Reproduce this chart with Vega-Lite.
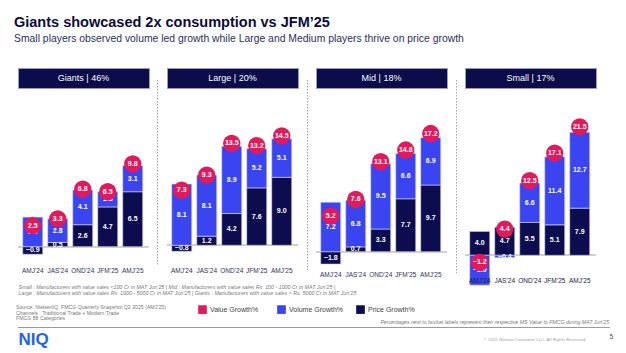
{
  "$schema": "https://vega.github.io/schema/vega-lite/v6.json",
  "background": "white",
  "padding": {"left": 14, "top": 14, "right": 4, "bottom": 2},
  "config": {
    "font": "Liberation Sans",
    "view": {"stroke": null},
    "axisX": {"domain": false, "ticks": false, "labelAngle": 0, "labelFontSize": 6.5, "labelColor": "#33335a", "labelPadding": 3, "labelOverlap": false, "zindex": 1}
  },
  "title": {
    "text": "Giants showcased 2x consumption vs JFM’25",
    "subtitle": "Small players observed volume led growth while Large and Medium players thrive on price growth",
    "anchor": "start", "dx": -2, "fontSize": 14.5, "fontWeight": "bold", "color": "#0b0b40",
    "subtitleFontSize": 10.4, "subtitleColor": "#2e2e5e", "subtitlePadding": 4, "offset": 22
  },
  "datasets": {
    "growth": [
      {"segment": "Giants", "period": "AMJ’24", "measure": "Price Growth%", "value": -0.9},
      {"segment": "Giants", "period": "AMJ’24", "measure": "Volume Growth%", "value": 3.5},
      {"segment": "Giants", "period": "AMJ’24", "measure": "Value Growth%", "value": 2.5},
      {"segment": "Giants", "period": "JAS’24", "measure": "Price Growth%", "value": 0.5},
      {"segment": "Giants", "period": "JAS’24", "measure": "Volume Growth%", "value": 2.8},
      {"segment": "Giants", "period": "JAS’24", "measure": "Value Growth%", "value": 3.3},
      {"segment": "Giants", "period": "OND’24", "measure": "Price Growth%", "value": 2.6},
      {"segment": "Giants", "period": "OND’24", "measure": "Volume Growth%", "value": 4.1},
      {"segment": "Giants", "period": "OND’24", "measure": "Value Growth%", "value": 6.8},
      {"segment": "Giants", "period": "JFM’25", "measure": "Price Growth%", "value": 4.7},
      {"segment": "Giants", "period": "JFM’25", "measure": "Volume Growth%", "value": 1.8},
      {"segment": "Giants", "period": "JFM’25", "measure": "Value Growth%", "value": 6.5},
      {"segment": "Giants", "period": "AMJ’25", "measure": "Price Growth%", "value": 6.5},
      {"segment": "Giants", "period": "AMJ’25", "measure": "Volume Growth%", "value": 3.1},
      {"segment": "Giants", "period": "AMJ’25", "measure": "Value Growth%", "value": 9.8},
      {"segment": "Large", "period": "AMJ’24", "measure": "Price Growth%", "value": -0.8},
      {"segment": "Large", "period": "AMJ’24", "measure": "Volume Growth%", "value": 8.1},
      {"segment": "Large", "period": "AMJ’24", "measure": "Value Growth%", "value": 7.3},
      {"segment": "Large", "period": "JAS’24", "measure": "Price Growth%", "value": 1.2},
      {"segment": "Large", "period": "JAS’24", "measure": "Volume Growth%", "value": 8.1},
      {"segment": "Large", "period": "JAS’24", "measure": "Value Growth%", "value": 9.3},
      {"segment": "Large", "period": "OND’24", "measure": "Price Growth%", "value": 4.2},
      {"segment": "Large", "period": "OND’24", "measure": "Volume Growth%", "value": 8.9},
      {"segment": "Large", "period": "OND’24", "measure": "Value Growth%", "value": 13.5},
      {"segment": "Large", "period": "JFM’25", "measure": "Price Growth%", "value": 7.6},
      {"segment": "Large", "period": "JFM’25", "measure": "Volume Growth%", "value": 5.2},
      {"segment": "Large", "period": "JFM’25", "measure": "Value Growth%", "value": 13.2},
      {"segment": "Large", "period": "AMJ’25", "measure": "Price Growth%", "value": 9.0},
      {"segment": "Large", "period": "AMJ’25", "measure": "Volume Growth%", "value": 5.1},
      {"segment": "Large", "period": "AMJ’25", "measure": "Value Growth%", "value": 14.5},
      {"segment": "Mid", "period": "AMJ’24", "measure": "Price Growth%", "value": -1.8},
      {"segment": "Mid", "period": "AMJ’24", "measure": "Volume Growth%", "value": 7.2},
      {"segment": "Mid", "period": "AMJ’24", "measure": "Value Growth%", "value": 5.2},
      {"segment": "Mid", "period": "JAS’24", "measure": "Price Growth%", "value": 0.7},
      {"segment": "Mid", "period": "JAS’24", "measure": "Volume Growth%", "value": 6.8},
      {"segment": "Mid", "period": "JAS’24", "measure": "Value Growth%", "value": 7.6},
      {"segment": "Mid", "period": "OND’24", "measure": "Price Growth%", "value": 3.3},
      {"segment": "Mid", "period": "OND’24", "measure": "Volume Growth%", "value": 9.5},
      {"segment": "Mid", "period": "OND’24", "measure": "Value Growth%", "value": 13.1},
      {"segment": "Mid", "period": "JFM’25", "measure": "Price Growth%", "value": 7.7},
      {"segment": "Mid", "period": "JFM’25", "measure": "Volume Growth%", "value": 6.6},
      {"segment": "Mid", "period": "JFM’25", "measure": "Value Growth%", "value": 14.8},
      {"segment": "Mid", "period": "AMJ’25", "measure": "Price Growth%", "value": 9.7},
      {"segment": "Mid", "period": "AMJ’25", "measure": "Volume Growth%", "value": 6.9},
      {"segment": "Mid", "period": "AMJ’25", "measure": "Value Growth%", "value": 17.2},
      {"segment": "Small", "period": "AMJ’24", "measure": "Price Growth%", "value": 4.0},
      {"segment": "Small", "period": "AMJ’24", "measure": "Volume Growth%", "value": -5.0},
      {"segment": "Small", "period": "AMJ’24", "measure": "Value Growth%", "value": -1.2},
      {"segment": "Small", "period": "JAS’24", "measure": "Price Growth%", "value": 4.7},
      {"segment": "Small", "period": "JAS’24", "measure": "Volume Growth%", "value": -0.4},
      {"segment": "Small", "period": "JAS’24", "measure": "Value Growth%", "value": 4.4},
      {"segment": "Small", "period": "OND’24", "measure": "Price Growth%", "value": 5.5},
      {"segment": "Small", "period": "OND’24", "measure": "Volume Growth%", "value": 6.6},
      {"segment": "Small", "period": "OND’24", "measure": "Value Growth%", "value": 12.5},
      {"segment": "Small", "period": "JFM’25", "measure": "Price Growth%", "value": 5.1},
      {"segment": "Small", "period": "JFM’25", "measure": "Volume Growth%", "value": 11.4},
      {"segment": "Small", "period": "JFM’25", "measure": "Value Growth%", "value": 17.1},
      {"segment": "Small", "period": "AMJ’25", "measure": "Price Growth%", "value": 7.9},
      {"segment": "Small", "period": "AMJ’25", "measure": "Volume Growth%", "value": 12.7},
      {"segment": "Small", "period": "AMJ’25", "measure": "Value Growth%", "value": 21.5}
    ]
  },
  "spacing": 22,
  "vconcat": [
    {
      "spacing": 7,
      "title": {
        "text": ["Small : Manufacturers with value sales <100 Cr in MAT Jun’25 | Mid : Manufacturers with value sales Rs. 100 - 1000 Cr in MAT Jun’25 |", "Large : Manufacturers with value sales Rs. 1000 - 5000 Cr in MAT Jun’25 | Giants : Manufacturers with value sales > Rs. 5000 Cr in MAT Jun’25"],
        "orient": "bottom", "anchor": "start", "fontSize": 5.3, "fontStyle": "italic", "fontWeight": "normal", "color": "#7a7a7a", "lineHeight": 5.8, "offset": 0, "dx": 1
      },
      "hconcat": [
        {
          "spacing": 7,
          "vconcat": [
            {
              "width": 131, "height": 20,
              "data": {"values": [{"label": "Giants | 46%"}]},
              "view": {"fill": "#0c0c4a", "stroke": "#9a9ac8", "strokeWidth": 1},
              "mark": {"type": "text", "color": "white", "fontSize": 9, "align": "center", "baseline": "middle"},
              "encoding": {"text": {"field": "label"}}
            },
            {
              "width": 131, "height": 168,
              "data": {"name": "growth"},
              "transform": [{"filter": "datum.segment === 'Giants'"}],
              "layer": [
                {"mark": {"type": "rule", "color": "#d0d0d0", "strokeWidth": 1},
                 "encoding": {"y": {"datum": 0, "type": "quantitative", "scale": {"domain": [-2.05, 17.83], "nice": false}, "axis": null}}},
                {
                  "encoding": {"x": {"field": "period", "type": "nominal", "title": null, "sort": ["AMJ’24", "JAS’24", "OND’24", "JFM’25", "AMJ’25"], "scale": {"paddingInner": 0.2, "paddingOuter": 0.22, "align": 0.43}}},
                  "layer": [
                    {"transform": [{"filter": "datum.measure !== 'Value Growth%'"}],
                     "mark": {"type": "bar", "stroke": "#d6d6f2", "strokeWidth": 0.6},
                     "encoding": {
                       "y": {"field": "value", "type": "quantitative", "stack": "zero", "scale": {"domain": [-2.05, 17.83], "nice": false}, "axis": null},
                       "color": {"field": "measure", "type": "nominal", "scale": {"domain": ["Value Growth%", "Volume Growth%", "Price Growth%"], "range": ["#e21a5d", "#3a44f0", "#0c0c4f"]},
                         "legend": {
                           "title": ["Source: NielsenIQ, FMCG Quarterly Snapshot Q2 2025 (AMJ’25)", "Channels : Traditional Trade + Modern Trade", "FMCG 88 Categories"],
                           "orient": "none", "legendX": -2, "legendY": 237, "direction": "horizontal",
                           "titleOrient": "left", "titleFontSize": 5.2, "titleFontWeight": "normal", "titleColor": "#7a7a7a", "titleLineHeight": 5.7, "titlePadding": 32, "titleLimit": 300, "titleAnchor": "start", "titleBaseline": "top",
                           "symbolType": "square", "symbolSize": 75, "symbolStrokeWidth": 0,
                           "labelFontSize": 7, "labelColor": "#444444", "labelOffset": 3, "columnPadding": 12, "gridAlign": "all"
                         }},
                       "order": {"field": "measure", "type": "nominal"}
                     }},
                    {"transform": [{"filter": "datum.measure !== 'Value Growth%'"}],
                     "mark": {"type": "text", "color": "white", "fontSize": 7, "fontWeight": "bold", "baseline": "middle"},
                     "encoding": {
                       "y": {"field": "value", "type": "quantitative", "stack": "zero", "bandPosition": 0.5, "scale": {"domain": [-2.05, 17.83], "nice": false}, "axis": null},
                       "detail": {"field": "measure"},
                       "order": {"field": "measure", "type": "nominal"},
                       "text": {"field": "value", "type": "quantitative", "format": ".1f"}
                     }},
                    {"transform": [{"filter": "datum.measure === 'Value Growth%'"}],
                     "mark": {"type": "circle", "size": 300, "opacity": 1},
                     "encoding": {
                       "y": {"field": "value", "type": "quantitative", "scale": {"domain": [-2.05, 17.83], "nice": false}, "axis": null},
                       "color": {"field": "measure", "type": "nominal", "scale": {"domain": ["Value Growth%", "Volume Growth%", "Price Growth%"], "range": ["#e21a5d", "#3a44f0", "#0c0c4f"]}, "legend": null}
                     }},
                    {"transform": [{"filter": "datum.measure === 'Value Growth%'"}],
                     "mark": {"type": "text", "color": "white", "fontSize": 7, "fontWeight": "bold", "baseline": "middle"},
                     "encoding": {
                       "y": {"field": "value", "type": "quantitative", "scale": {"domain": [-2.05, 17.83], "nice": false}, "axis": null},
                       "text": {"field": "value", "type": "quantitative", "format": ".1f"}
                     }}
                  ]
                }
              ]
            }
          ]
        },
        {
          "spacing": 0,
          "vconcat": [
            {"width": 1, "height": 11, "data": {"values": [{"t": ""}]}, "mark": {"type": "text"}, "encoding": {"text": {"field": "t"}}},
            {"width": 1, "height": 186, "data": {"values": [{"t": ""}]}, "mark": {"type": "rule", "color": "#a0a0a0", "strokeDash": [1.5, 1.5], "strokeWidth": 1, "xOffset": -1},
             "encoding": {"x": {"datum": 0, "type": "quantitative", "scale": {"domain": [-1, 1]}, "axis": null}}}
          ]
        },
        {
          "spacing": 7,
          "vconcat": [
            {
              "width": 131, "height": 20,
              "data": {"values": [{"label": "Large | 20%"}]},
              "view": {"fill": "#0c0c4a", "stroke": "#9a9ac8", "strokeWidth": 1},
              "mark": {"type": "text", "color": "white", "fontSize": 9, "align": "center", "baseline": "middle"},
              "encoding": {"text": {"field": "label"}}
            },
            {
              "width": 131, "height": 168,
              "data": {"name": "growth"},
              "transform": [{"filter": "datum.segment === 'Large'"}],
              "layer": [
                {"mark": {"type": "rule", "color": "#d0d0d0", "strokeWidth": 1},
                 "encoding": {"y": {"datum": 0, "type": "quantitative", "scale": {"domain": [-2.48, 19.77], "nice": false}, "axis": null}}},
                {
                  "encoding": {"x": {"field": "period", "type": "nominal", "title": null, "sort": ["AMJ’24", "JAS’24", "OND’24", "JFM’25", "AMJ’25"], "scale": {"paddingInner": 0.2, "paddingOuter": 0.22, "align": 0.43}}},
                  "layer": [
                    {"transform": [{"filter": "datum.measure !== 'Value Growth%'"}],
                     "mark": {"type": "bar", "stroke": "#d6d6f2", "strokeWidth": 0.6},
                     "encoding": {
                       "y": {"field": "value", "type": "quantitative", "stack": "zero", "scale": {"domain": [-2.48, 19.77], "nice": false}, "axis": null},
                       "color": {"field": "measure", "type": "nominal", "scale": {"domain": ["Value Growth%", "Volume Growth%", "Price Growth%"], "range": ["#e21a5d", "#3a44f0", "#0c0c4f"]}, "legend": null},
                       "order": {"field": "measure", "type": "nominal"}
                     }},
                    {"transform": [{"filter": "datum.measure !== 'Value Growth%'"}],
                     "mark": {"type": "text", "color": "white", "fontSize": 7, "fontWeight": "bold", "baseline": "middle"},
                     "encoding": {
                       "y": {"field": "value", "type": "quantitative", "stack": "zero", "bandPosition": 0.5, "scale": {"domain": [-2.48, 19.77], "nice": false}, "axis": null},
                       "detail": {"field": "measure"},
                       "order": {"field": "measure", "type": "nominal"},
                       "text": {"field": "value", "type": "quantitative", "format": ".1f"}
                     }},
                    {"transform": [{"filter": "datum.measure === 'Value Growth%'"}],
                     "mark": {"type": "circle", "size": 300, "opacity": 1},
                     "encoding": {
                       "y": {"field": "value", "type": "quantitative", "scale": {"domain": [-2.48, 19.77], "nice": false}, "axis": null},
                       "color": {"field": "measure", "type": "nominal", "scale": {"domain": ["Value Growth%", "Volume Growth%", "Price Growth%"], "range": ["#e21a5d", "#3a44f0", "#0c0c4f"]}, "legend": null}
                     }},
                    {"transform": [{"filter": "datum.measure === 'Value Growth%'"}],
                     "mark": {"type": "text", "color": "white", "fontSize": 7, "fontWeight": "bold", "baseline": "middle"},
                     "encoding": {
                       "y": {"field": "value", "type": "quantitative", "scale": {"domain": [-2.48, 19.77], "nice": false}, "axis": null},
                       "text": {"field": "value", "type": "quantitative", "format": ".1f"}
                     }}
                  ]
                }
              ]
            }
          ]
        },
        {
          "spacing": 0,
          "vconcat": [
            {"width": 1, "height": 11, "data": {"values": [{"t": ""}]}, "mark": {"type": "text"}, "encoding": {"text": {"field": "t"}}},
            {"width": 1, "height": 190, "data": {"values": [{"t": ""}]}, "mark": {"type": "rule", "color": "#a0a0a0", "strokeDash": [1.5, 1.5], "strokeWidth": 1, "xOffset": 1},
             "encoding": {"x": {"datum": 0, "type": "quantitative", "scale": {"domain": [-1, 1]}, "axis": null}}}
          ]
        },
        {
          "spacing": 7,
          "vconcat": [
            {
              "width": 131, "height": 20,
              "data": {"values": [{"label": "Mid | 18%"}]},
              "view": {"fill": "#0c0c4a", "stroke": "#9a9ac8", "strokeWidth": 1},
              "mark": {"type": "text", "color": "white", "fontSize": 9, "align": "center", "baseline": "middle"},
              "encoding": {"text": {"field": "label"}}
            },
            {
              "width": 131, "height": 172,
              "data": {"name": "growth"},
              "transform": [{"filter": "datum.segment === 'Mid'"}],
              "layer": [
                {"mark": {"type": "rule", "color": "#d0d0d0", "strokeWidth": 1},
                 "encoding": {"y": {"datum": 0, "type": "quantitative", "scale": {"domain": [-2.37, 22.66], "nice": false}, "axis": null}}},
                {
                  "encoding": {"x": {"field": "period", "type": "nominal", "title": null, "sort": ["AMJ’24", "JAS’24", "OND’24", "JFM’25", "AMJ’25"], "scale": {"paddingInner": 0.2, "paddingOuter": 0.22, "align": 0.43}}},
                  "layer": [
                    {"transform": [{"filter": "datum.measure !== 'Value Growth%'"}],
                     "mark": {"type": "bar", "stroke": "#d6d6f2", "strokeWidth": 0.6},
                     "encoding": {
                       "y": {"field": "value", "type": "quantitative", "stack": "zero", "scale": {"domain": [-2.37, 22.66], "nice": false}, "axis": null},
                       "color": {"field": "measure", "type": "nominal", "scale": {"domain": ["Value Growth%", "Volume Growth%", "Price Growth%"], "range": ["#e21a5d", "#3a44f0", "#0c0c4f"]}, "legend": null},
                       "order": {"field": "measure", "type": "nominal"}
                     }},
                    {"transform": [{"filter": "datum.measure !== 'Value Growth%'"}],
                     "mark": {"type": "text", "color": "white", "fontSize": 7, "fontWeight": "bold", "baseline": "middle"},
                     "encoding": {
                       "y": {"field": "value", "type": "quantitative", "stack": "zero", "bandPosition": 0.5, "scale": {"domain": [-2.37, 22.66], "nice": false}, "axis": null},
                       "detail": {"field": "measure"},
                       "order": {"field": "measure", "type": "nominal"},
                       "text": {"field": "value", "type": "quantitative", "format": ".1f"}
                     }},
                    {"transform": [{"filter": "datum.measure === 'Value Growth%'"}],
                     "mark": {"type": "circle", "size": 300, "opacity": 1},
                     "encoding": {
                       "y": {"field": "value", "type": "quantitative", "scale": {"domain": [-2.37, 22.66], "nice": false}, "axis": null},
                       "color": {"field": "measure", "type": "nominal", "scale": {"domain": ["Value Growth%", "Volume Growth%", "Price Growth%"], "range": ["#e21a5d", "#3a44f0", "#0c0c4f"]}, "legend": null}
                     }},
                    {"transform": [{"filter": "datum.measure === 'Value Growth%'"}],
                     "mark": {"type": "text", "color": "white", "fontSize": 7, "fontWeight": "bold", "baseline": "middle"},
                     "encoding": {
                       "y": {"field": "value", "type": "quantitative", "scale": {"domain": [-2.37, 22.66], "nice": false}, "axis": null},
                       "text": {"field": "value", "type": "quantitative", "format": ".1f"}
                     }}
                  ]
                }
              ]
            }
          ]
        },
        {
          "spacing": 0,
          "vconcat": [
            {"width": 1, "height": 11, "data": {"values": [{"t": ""}]}, "mark": {"type": "text"}, "encoding": {"text": {"field": "t"}}},
            {"width": 1, "height": 193, "data": {"values": [{"t": ""}]}, "mark": {"type": "rule", "color": "#a0a0a0", "strokeDash": [1.5, 1.5], "strokeWidth": 1, "xOffset": 1},
             "encoding": {"x": {"datum": 0, "type": "quantitative", "scale": {"domain": [-1, 1]}, "axis": null}}}
          ]
        },
        {
          "spacing": 7,
          "vconcat": [
            {
              "width": 131, "height": 20,
              "data": {"values": [{"label": "Small | 17%"}]},
              "view": {"fill": "#0c0c4a", "stroke": "#9a9ac8", "strokeWidth": 1},
              "mark": {"type": "text", "color": "white", "fontSize": 9, "align": "center", "baseline": "middle"},
              "encoding": {"text": {"field": "label"}}
            },
            {
              "width": 131, "height": 178,
              "data": {"name": "growth"},
              "transform": [{"filter": "datum.segment === 'Small'"}],
              "layer": [
                {"mark": {"type": "rule", "color": "#d0d0d0", "strokeWidth": 1},
                 "encoding": {"y": {"datum": 0, "type": "quantitative", "scale": {"domain": [-3.13, 26.68], "nice": false}, "axis": null}}},
                {
                  "encoding": {"x": {"field": "period", "type": "nominal", "title": null, "sort": ["AMJ’24", "JAS’24", "OND’24", "JFM’25", "AMJ’25"], "scale": {"paddingInner": 0.2, "paddingOuter": 0.22, "align": 0.43}, "axis": {"zindex": 2, "labelColor": "#1c1c48"}}},
                  "layer": [
                    {"transform": [{"filter": "datum.measure !== 'Value Growth%'"}],
                     "mark": {"type": "bar", "stroke": "#d6d6f2", "strokeWidth": 0.6},
                     "encoding": {
                       "y": {"field": "value", "type": "quantitative", "stack": "zero", "scale": {"domain": [-3.13, 26.68], "nice": false}, "axis": null},
                       "color": {"field": "measure", "type": "nominal", "scale": {"domain": ["Value Growth%", "Volume Growth%", "Price Growth%"], "range": ["#e21a5d", "#3a44f0", "#0c0c4f"]}, "legend": null},
                       "order": {"field": "measure", "type": "nominal"}
                     }},
                    {"transform": [{"filter": "datum.measure !== 'Value Growth%'"}],
                     "mark": {"type": "text", "color": "white", "fontSize": 7, "fontWeight": "bold", "baseline": "middle"},
                     "encoding": {
                       "y": {"field": "value", "type": "quantitative", "stack": "zero", "bandPosition": 0.5, "scale": {"domain": [-3.13, 26.68], "nice": false}, "axis": null},
                       "detail": {"field": "measure"},
                       "order": {"field": "measure", "type": "nominal"},
                       "text": {"field": "value", "type": "quantitative", "format": ".1f"}
                     }},
                    {"transform": [{"filter": "datum.measure === 'Value Growth%'"}],
                     "mark": {"type": "circle", "size": 300, "opacity": 1},
                     "encoding": {
                       "y": {"field": "value", "type": "quantitative", "scale": {"domain": [-3.13, 26.68], "nice": false}, "axis": null},
                       "color": {"field": "measure", "type": "nominal", "scale": {"domain": ["Value Growth%", "Volume Growth%", "Price Growth%"], "range": ["#e21a5d", "#3a44f0", "#0c0c4f"]}, "legend": null}
                     }},
                    {"transform": [{"filter": "datum.measure === 'Value Growth%'"}],
                     "mark": {"type": "text", "color": "white", "fontSize": 7, "fontWeight": "bold", "baseline": "middle"},
                     "encoding": {
                       "y": {"field": "value", "type": "quantitative", "scale": {"domain": [-3.13, 26.68], "nice": false}, "axis": null},
                       "text": {"field": "value", "type": "quantitative", "format": ".1f"}
                     }}
                  ]
                }
              ]
            }
          ]
        }
      ]
    },
    {
      "spacing": 3,
      "vconcat": [
        {
          "width": 592, "height": 1,
          "data": {"values": [{"v": 0}]},
          "title": {"text": "Percentages next to bucket labels represent their respective MS Value to FMCG during MAT Jun’25.", "anchor": "end", "fontSize": 5.2, "fontStyle": "italic", "fontWeight": "normal", "color": "#7a7a7a", "offset": 2},
          "mark": {"type": "rule", "color": "#9a9a9a", "strokeWidth": 1},
          "encoding": {"y": {"field": "v", "type": "quantitative", "axis": null}}
        },
        {
          "spacing": 434,
          "hconcat": [
            {
              "width": 1, "height": 12,
              "data": {"values": [{"t": "NIQ"}]},
              "mark": {"type": "text", "align": "left", "baseline": "middle", "fontSize": 17, "fontWeight": "bold", "color": "#2563eb"},
              "encoding": {"text": {"field": "t"}}
            },
            {
              "spacing": 22,
              "hconcat": [
                {
                  "width": 1, "height": 12,
                  "data": {"values": [{"t": "© 2025 Nielsen Consumer LLC. All Rights Reserved."}]},
                  "mark": {"type": "text", "align": "left", "baseline": "middle", "fontSize": 4.4, "color": "#a0a0a0"},
                  "encoding": {"text": {"field": "t"}}
                },
                {
                  "width": 1, "height": 12,
                  "data": {"values": [{"t": "5"}]},
                  "mark": {"type": "text", "align": "left", "baseline": "middle", "fontSize": 7, "color": "#555555", "dy": -3},
                  "encoding": {"text": {"field": "t"}}
                }
              ]
            }
          ]
        }
      ]
    }
  ]
}
